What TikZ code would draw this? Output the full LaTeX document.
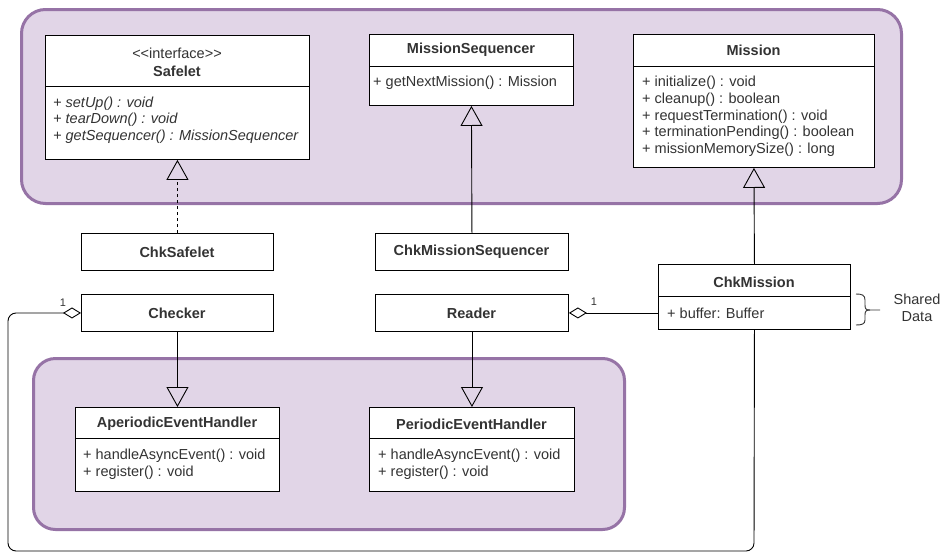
\documentclass[tikz,border=0pt]{standalone}
\usepackage{fontspec}
\setmainfont{Liberation Sans}
\usetikzlibrary{arrows.meta}
\definecolor{grpfill}{HTML}{E1D5E7}
\definecolor{grpdraw}{HTML}{9673A6}
\definecolor{txt}{HTML}{333333}
\begin{document}
\begin{tikzpicture}[x=1pt,y=-1pt,
 grp/.style={draw=grpdraw, fill=grpfill, line width=3pt, rounded corners=24pt, anchor=north west, inner sep=0pt},
 box/.style={draw=black, fill=white, line width=0.9pt, anchor=north west, inner sep=0pt},
 ttl/.style={font=\fontsize{14.5}{16.7}\selectfont\bfseries, text=txt, inner sep=0pt},
 plain/.style={font=\fontsize{14.5}{16.7}\selectfont, text=txt, inner sep=0pt},
 mem/.style={font=\fontsize{14.5}{16.7}\selectfont, text=txt, align=left, anchor=west, inner sep=0pt},
 mult/.style={font=\fontsize{11}{13}\selectfont, text=txt, inner sep=0pt},
 divl/.style={line width=0.9pt},
 gen/.style={-{Triangle[open,width=22pt,length=20pt]}, line width=0.9pt},
 agg/.style={{Diamond[open,length=18pt,width=11pt]}-, line width=0.9pt},
]
\useasboundingbox (0,0) rectangle (940,552);

% groups
\node[grp, minimum width=880pt, minimum height=194pt] (topgrp) at (20,8) {};
\node[grp, minimum width=591pt, minimum height=171pt, rounded corners=22pt] (botgrp) at (32,357) {};

% Safelet
\node[box, minimum width=264pt, minimum height=124pt] (safelet) at (45,35) {};
\draw[divl] (45,86) -- (309,86);
\node[plain] (safeletst) at (177,53) {<\kern0pt<interface>\kern0pt>};
\node[ttl] (safelettl) at (177,71) {Safelet};
\node[mem, font=\fontsize{14.5}{16.7}\selectfont\itshape] (safeletmem) at (53,120) {+ setUp() : void\\+ tearDown() : void\\+ getSequencer() : MissionSequencer};

% MissionSequencer
\node[box, minimum width=204pt, minimum height=71pt] (mseq) at (369,34) {};
\draw[divl] (369,66) -- (573,66);
\node[ttl] (mseqtl) at (471,50) {MissionSequencer};
\node[mem] (mseqmem) at (373,83) {+ getNextMission() : Mission};

% Mission
\node[box, minimum width=241pt, minimum height=133pt] (mission) at (633,34) {};
\draw[divl] (633,66) -- (874,66);
\node[ttl] (missiontl) at (753.5,50) {Mission};
\node[mem] (missionmem) at (642,116.5) {+ initialize() : void\\+ cleanup() : boolean\\+ requestTermination() : void\\+ terminationPending() : boolean\\+ missionMemorySize() : long};

% ChkSafelet, Checker
\node[box, minimum width=192pt, minimum height=37pt] (chksafelet) at (81,233) {};
\node[ttl] (chksafelettl) at (177,252) {ChkSafelet};
\node[box, minimum width=192pt, minimum height=37pt] (checker) at (81,294) {};
\node[ttl] (checkertl) at (177,313) {Checker};

% ChkMissionSequencer, Reader
\node[box, minimum width=193pt, minimum height=37pt] (chkmseq) at (375,233) {};
\node[ttl] (chkmseqtl) at (471.5,252) {ChkMissionSequencer};
\node[box, minimum width=193pt, minimum height=37pt] (reader) at (375,294) {};
\node[ttl] (readertl) at (471.5,313) {Reader};

% ChkMission
\node[box, minimum width=192pt, minimum height=65pt] (chkmission) at (658,264) {};
\draw[divl] (658,296) -- (850,296);
\node[ttl] (chkmissiontl) at (754,282) {ChkMission};
\node[mem] (chkmissionmem) at (667,313) {+ buffer: Buffer};

% Aperiodic / Periodic
\node[box, minimum width=204pt, minimum height=84pt] (aeh) at (75,407) {};
\draw[divl] (75,438) -- (279,438);
\node[ttl] (aehtl) at (177,424) {AperiodicEventHandler};
\node[mem] (aehmem) at (83,464) {+ handleAsyncEvent() : void\\+ register() : void};

\node[box, minimum width=205pt, minimum height=84pt] (peh) at (369,407) {};
\draw[divl] (369,438) -- (574,438);
\node[ttl] (pehtl) at (471.5,424) {PeriodicEventHandler};
\node[mem] (pehmem) at (378,464) {+ handleAsyncEvent() : void\\+ register() : void};

% connectors
\draw[gen, dash pattern=on 3pt off 3pt] (chksafelet.north) -- (safelet.south);
\draw[gen] (chkmseq.north) -- (mseq.south);
\draw[gen] (chkmission.north) -- (mission.south);
\draw[gen] (checker.south) -- (aeh.north);
\draw[gen] (reader.south) -- (peh.north);
\draw[agg] (reader.east) -- (reader.east -| chkmission.west);
\coordinate (loopa) at (8,313);
\coordinate (loopb) at (8,551);
\coordinate (loopc) at (754,551);
\draw[agg, rounded corners=8pt] (checker.west) -- (loopa) -- (loopb) -- (loopc) -- (chkmission.south);

\node[mult] (m1) at (63,303) {1};
\node[mult] (m2) at (594,302) {1};

% shared data brace
\draw[line width=0.9pt, txt] (856,294) .. controls (862,294) and (865,295) .. (865,300) -- (865,305) .. controls (865,309) and (866,310) .. (870,310) -- (880,310);
\draw[line width=0.9pt, txt] (870,310) .. controls (866,310) and (865,311) .. (865,315) -- (865,320) .. controls (865,324) and (862,325) .. (856,325);
\node[plain, align=center] (shared) at (917,308) {Shared\\Data};
\end{tikzpicture}
\end{document}
